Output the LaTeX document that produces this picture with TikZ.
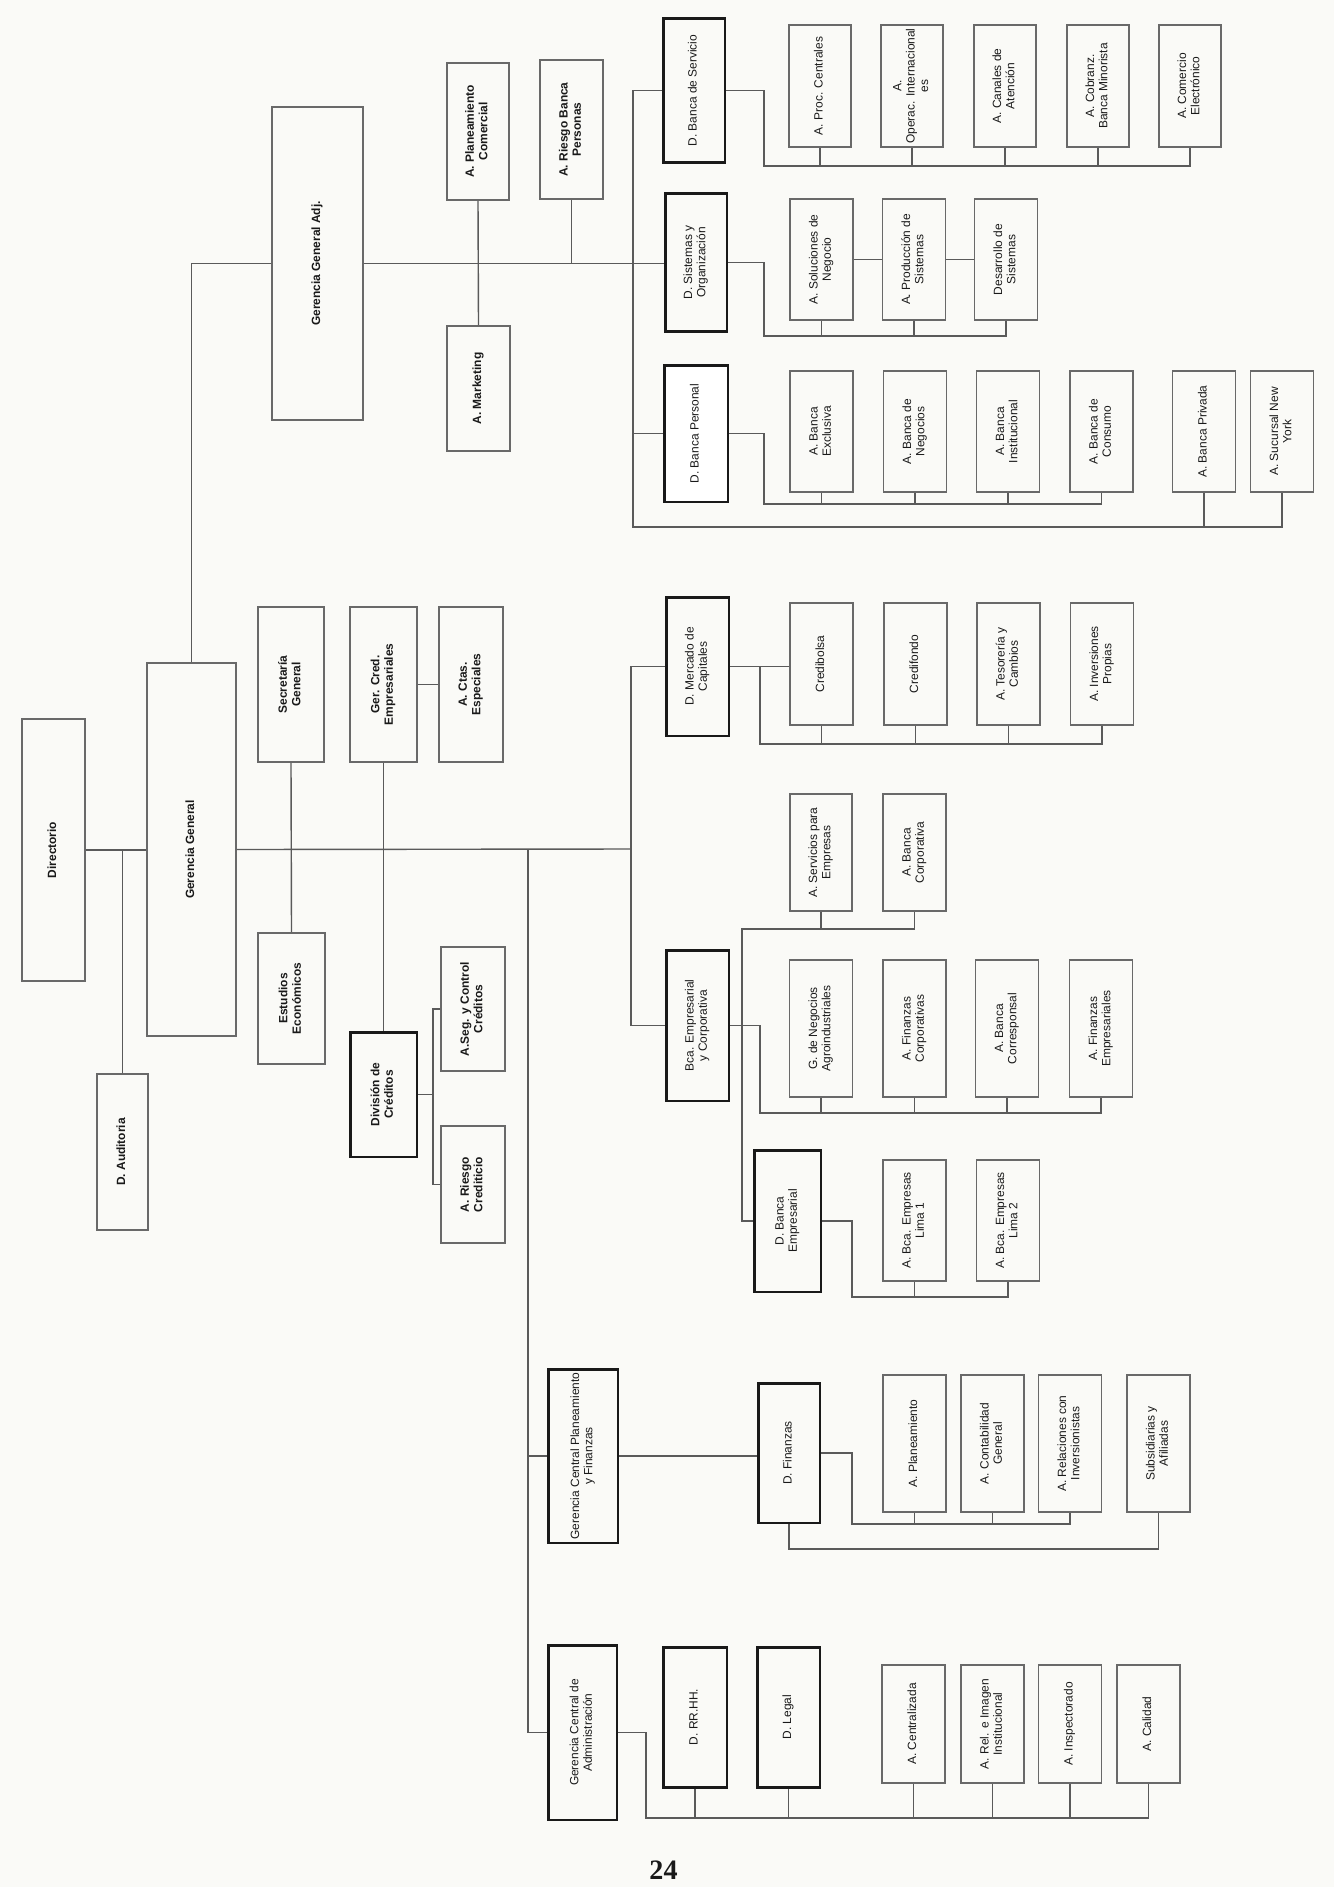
\documentclass[tikz,border=0pt]{standalone}
\usepackage{fontspec}
\setmainfont{Liberation Serif}
\setsansfont{Liberation Sans}
\usetikzlibrary{positioning,calc}
\definecolor{paperWhite}{RGB}{250,250,247}
\definecolor{lineGray}{RGB}{90,90,90}
\definecolor{boxGray}{RGB}{105,105,105}
\definecolor{inkBlack}{RGB}{25,25,25}
\newcommand{\vlabel}[1]{\rotatebox{90}{\begin{tabular}{@{}c@{}}#1\end{tabular}}}

\begin{document}
\begin{tikzpicture}[x=0.02cm,y=-0.02cm,
  orgbox/.style={draw=boxGray,line width=0.9pt,fill=paperWhite,inner sep=0pt,text=inkBlack,font=\sffamily\fontsize{6.8}{7.6}\selectfont},
  boldbox/.style={orgbox,font=\sffamily\bfseries\fontsize{6.8}{7.6}\selectfont},
  headbox/.style={orgbox,draw=inkBlack,line width=1.7pt},
  unitbox/.style={orgbox,minimum width=1.26cm,minimum height=2.42cm},
  tallbox/.style={orgbox,minimum width=1.26cm,minimum height=2.74cm},
  link/.style={draw=lineGray,line width=0.8pt}]
\fill[paperWhite] (0,0) rectangle (1334,1887);
\useasboundingbox (0,0) rectangle (1334,1887);

% direccion y gerencia
\node[boldbox,minimum width=1.26cm,minimum height=5.24cm] (dir) at (53.5,850) {\vlabel{Directorio}};
\node[boldbox,minimum width=1.78cm,minimum height=7.46cm] (gg) at (191.5,849.5) {\vlabel{Gerencia General}};
\node[boldbox,minimum width=1.02cm,minimum height=3.12cm] (aud) at (122.5,1152) {\vlabel{D. Auditoria}};
\node[boldbox,minimum width=1.82cm,minimum height=6.26cm] (gga) at (317.5,263.5) {\vlabel{Gerencia General Adj.}};
\node[boldbox,minimum width=1.32cm,minimum height=3.10cm] (secgen) at (291,684.5) {\vlabel{Secretaría\\General}};
\node[boldbox,minimum width=1.34cm,minimum height=3.10cm] (gercred) at (383.5,684.5) {\vlabel{Ger. Cred.\\Empresariales}};
\node[boldbox,minimum width=1.28cm,minimum height=3.10cm] (ctas) at (471,684.5) {\vlabel{A. Ctas.\\Especiales}};
\node[boldbox,minimum width=1.34cm,minimum height=2.62cm] (estudios) at (291.5,998.5) {\vlabel{Estudios\\Económicos}};
\node[boldbox,draw=inkBlack,line width=1.7pt,minimum width=1.34cm,minimum height=2.50cm] (divcred) at (383.5,1094.5) {\vlabel{División de\\Créditos}};
\node[boldbox,minimum width=1.28cm,minimum height=2.48cm] (aseg) at (473,1009) {\vlabel{A.Seg. y Control\\Créditos}};
\node[boldbox,minimum width=1.28cm,minimum height=2.34cm] (ariesgo) at (473,1184.5) {\vlabel{A. Riesgo\\Crediticio}};
\node[boldbox,minimum width=1.24cm,minimum height=2.74cm] (plancom) at (478,131.5) {\vlabel{A. Planeamiento\\Comercial}};
\node[boldbox,minimum width=1.26cm,minimum height=2.78cm] (riesgobp) at (571.5,129.5) {\vlabel{A. Riesgo Banca\\Personas}};
\node[boldbox,minimum width=1.26cm,minimum height=2.50cm] (mkt) at (478.5,388.5) {\vlabel{A. Marketing}};

% banca personal, sistemas, servicio
\node[headbox,minimum width=1.24cm,minimum height=2.90cm] (dserv) at (694,90.5) {\vlabel{D. Banca de Servicio}};
\node[headbox,minimum width=1.24cm,minimum height=2.78cm] (dsis) at (696,262.5) {\vlabel{D. Sistemas y\\Organización}};
\node[headbox,minimum width=1.28cm,minimum height=2.74cm,fill=white] (dper) at (696,433.5) {\vlabel{D. Banca Personal}};
\node[unitbox,minimum width=1.24cm,minimum height=2.44cm] (aproc) at (820,86) {\vlabel{A. Proc. Centrales}};
\node[unitbox,minimum width=1.24cm,minimum height=2.44cm] (aoper) at (912,86) {\vlabel{A.\\Operac. Internacional\\es}};
\node[unitbox,minimum width=1.24cm,minimum height=2.44cm] (acan) at (1005,86) {\vlabel{A. Canales de\\Atención}};
\node[unitbox,minimum width=1.24cm,minimum height=2.44cm] (acob) at (1098,86) {\vlabel{A. Cobranz.\\Banca Minorista}};
\node[unitbox,minimum width=1.24cm,minimum height=2.44cm] (acom) at (1190,86) {\vlabel{A. Comercio\\Electrónico}};
\node[unitbox] (asol) at (821.5,259.5) {\vlabel{A. Soluciones de\\Negocio}};
\node[unitbox] (aprod) at (914,259.5) {\vlabel{A. Producción de\\Sistemas}};
\node[unitbox] (adesa) at (1006,259.5) {\vlabel{Desarrollo de\\Sistemas}};
\node[unitbox] (aexcl) at (821.5,431.5) {\vlabel{A. Banca\\Exclusiva}};
\node[unitbox] (aneg) at (915,431.5) {\vlabel{A. Banca de\\Negocios}};
\node[unitbox] (ainst) at (1008,431.5) {\vlabel{A. Banca\\Institucional}};
\node[unitbox] (acons) at (1101.5,431.5) {\vlabel{A. Banca de\\Consumo}};
\node[unitbox] (apriv) at (1204,431.5) {\vlabel{A. Banca Privada}};
\node[unitbox] (anyork) at (1282,431.5) {\vlabel{A. Sucursal New\\York}};

% mercado de capitales y banca empresarial
\node[headbox,minimum width=1.26cm,minimum height=2.78cm] (dmerc) at (697.5,666.5) {\vlabel{D. Mercado de\\Capitales}};
\node[unitbox,minimum height=2.44cm] (acredb) at (821.5,664) {\vlabel{Credibolsa}};
\node[unitbox,minimum height=2.44cm] (acredf) at (915.5,664) {\vlabel{Credifondo}};
\node[unitbox,minimum height=2.44cm] (ateso) at (1008.5,664) {\vlabel{A. Tesorería y\\Cambios}};
\node[unitbox,minimum height=2.44cm] (ainv) at (1102,664) {\vlabel{A. Inversiones\\Propias}};
\node[unitbox,minimum width=1.24cm,minimum height=2.34cm] (aservemp) at (821,852.5) {\vlabel{A. Servicios para\\Empresas}};
\node[unitbox,minimum height=2.34cm] (abcorp) at (914.5,852.5) {\vlabel{A. Banca\\Corporativa}};
\node[headbox,minimum width=1.26cm,minimum height=3.02cm] (bcaemp) at (697.5,1025.5) {\vlabel{Bca. Empresarial\\y Corporativa}};
\node[tallbox] (agneg) at (821,1028.5) {\vlabel{G. de Negocios\\Agroindustriales}};
\node[tallbox] (afincorp) at (914.5,1028.5) {\vlabel{A. Finanzas\\Corporativas}};
\node[tallbox] (abcorr) at (1007,1028.5) {\vlabel{A. Banca\\Corresponsal}};
\node[tallbox] (afinemp) at (1101,1028.5) {\vlabel{A. Finanzas\\Empresariales}};
\node[headbox,minimum width=1.34cm,minimum height=2.84cm] (dbe) at (787.5,1221) {\vlabel{D. Banca\\Empresarial}};
\node[unitbox] (alima1) at (914.5,1220.5) {\vlabel{A. Bca. Empresas\\Lima 1}};
\node[unitbox] (alima2) at (1008,1220.5) {\vlabel{A. Bca. Empresas\\Lima 2}};

% planeamiento y finanzas
\node[headbox,minimum width=1.40cm,minimum height=3.48cm] (gcpf) at (583,1456) {\vlabel{Gerencia Central Planeamiento\\y Finanzas}};
\node[headbox,minimum width=1.24cm,minimum height=2.80cm] (dfin) at (789,1453) {\vlabel{D. Finanzas}};
\node[tallbox] (aplan) at (914.5,1443.5) {\vlabel{A. Planeamiento}};
\node[tallbox] (acont) at (992.5,1443.5) {\vlabel{A. Contabilidad\\General}};
\node[tallbox] (arel) at (1070,1443.5) {\vlabel{A. Relaciones con\\Inversionistas}};
\node[tallbox] (asub) at (1158.5,1443.5) {\vlabel{Subsidiarias y\\Afiliadas}};

% administracion
\node[headbox,minimum width=1.38cm,minimum height=3.50cm] (gca) at (582.5,1732.5) {\vlabel{Gerencia Central de\\Administración}};
\node[headbox,minimum width=1.28cm,minimum height=2.80cm] (drrhh) at (695,1717) {\vlabel{D. RR.HH.}};
\node[headbox,minimum width=1.26cm,minimum height=2.80cm] (dlegal) at (788.5,1717) {\vlabel{D. Legal}};
\node[unitbox,minimum height=2.36cm] (acent) at (913.5,1724) {\vlabel{A. Centralizada}};
\node[unitbox,minimum height=2.36cm] (arelim) at (992.5,1724) {\vlabel{A. Rel. e Imagen\\Institucional}};
\node[unitbox,minimum height=2.36cm] (ainsp) at (1070,1724) {\vlabel{A. Inspectorado}};
\node[unitbox,minimum height=2.36cm] (acal) at (1148.5,1724) {\vlabel{A. Calidad}};

\node[font=\rmfamily\bfseries\fontsize{16}{18}\selectfont,text=inkBlack] (pagenum) at (663.5,1870) {24};

% puntos de union
\coordinate (ggaj) at (191.5,263.5);
\coordinate (ml) at (631,849);
\coordinate (gsp) at (528,849);
\coordinate (divj) at (433,1094.5);
\coordinate (bb) at (633,527);
\coordinate (servj) at (764,166);
\coordinate (sisj) at (764,336);
\coordinate (perj) at (764,504);
\coordinate (mercj) at (760,744);
\coordinate (bcaj) at (760,1113);
\coordinate (corpj) at (742,929);
\coordinate (dbej) at (852,1297);
\coordinate (finj) at (852,1524);
\coordinate (finj2) at (789,1549);
\coordinate (admj) at (646,1818);

% conectores
\draw[link] (dir.east) -- (dir.east -| gg.west);
\draw[link] (aud.north) -- (aud.north |- dir.east);
\draw[link] (gg.north) -- (ggaj) -- (gga.west);
\draw[link] (gga.east) -- (gga.east -| dsis.west);
\draw[link] (plancom.south) -- (mkt.north);
\draw[link] (riesgobp.south) -- (riesgobp.south |- gga.east);
\draw[link] (gg.east) -- (ml);
\draw[link] (secgen.south) -- (estudios.north);
\draw[link] (gercred.south) -- (divcred.north);
\draw[link] (gercred.east) -- (ctas.west);
\draw[link] (divcred.east) -- (divj);
\draw[link] (aseg.west) -| (divj) |- (ariesgo.west);
\draw[link] (gsp) |- (gca.west);
\draw[link] (gcpf.west) -- (gcpf.west -| gsp);

\draw[link] (dserv.west) -| (bb) -| (anyork.south);
\draw[link] (dper.west) -- (dper.west -| bb);
\draw[link] (apriv.south) -- (apriv.south |- bb);
\draw[link] (dserv.east) -| (servj) -| (acom.south);
\draw[link] (aproc.south) -- (aproc.south |- servj);
\draw[link] (aoper.south) -- (aoper.south |- servj);
\draw[link] (acan.south) -- (acan.south |- servj);
\draw[link] (acob.south) -- (acob.south |- servj);
\draw[link] (dsis.east) -| (sisj) -| (adesa.south);
\draw[link] (asol.south) -- (asol.south |- sisj);
\draw[link] (aprod.south) -- (aprod.south |- sisj);
\draw[link] (asol.east) -- (aprod.west);
\draw[link] (aprod.east) -- (adesa.west);
\draw[link] (dper.east) -| (perj) -| (acons.south);
\draw[link] (aexcl.south) -- (aexcl.south |- perj);
\draw[link] (aneg.south) -- (aneg.south |- perj);
\draw[link] (ainst.south) -- (ainst.south |- perj);

\draw[link] (dmerc.west) -| (ml) |- (bcaemp.west);
\draw[link] (dmerc.east) -- (dmerc.east -| acredb.west);
\draw[link] (mercj |- dmerc.east) -- (mercj) -| (ainv.south);
\draw[link] (acredb.south) -- (acredb.south |- mercj);
\draw[link] (acredf.south) -- (acredf.south |- mercj);
\draw[link] (ateso.south) -- (ateso.south |- mercj);
\draw[link] (bcaemp.east) -| (bcaj) -| (afinemp.south);
\draw[link] (agneg.south) -- (agneg.south |- bcaj);
\draw[link] (afincorp.south) -- (afincorp.south |- bcaj);
\draw[link] (abcorr.south) -- (abcorr.south |- bcaj);
\draw[link] (abcorp.south) |- (corpj) |- (dbe.west);
\draw[link] (aservemp.south) -- (aservemp.south |- corpj);
\draw[link] (dbe.east) -| (dbej) -| (alima2.south);
\draw[link] (alima1.south) -- (alima1.south |- dbej);

\draw[link] (gcpf.east) -- (gcpf.east -| dfin.west);
\draw[link] (dfin.east) -| (finj) -| (arel.south);
\draw[link] (aplan.south) -- (aplan.south |- finj);
\draw[link] (acont.south) -- (acont.south |- finj);
\draw[link] (dfin.south) -- (finj2) -| (asub.south);

\draw[link] (gca.east) -| (admj) -| (acal.south);
\draw[link] (drrhh.south) -- (drrhh.south |- admj);
\draw[link] (dlegal.south) -- (dlegal.south |- admj);
\draw[link] (acent.south) -- (acent.south |- admj);
\draw[link] (arelim.south) -- (arelim.south |- admj);
\draw[link] (ainsp.south) -- (ainsp.south |- admj);
\end{tikzpicture}
\end{document}
